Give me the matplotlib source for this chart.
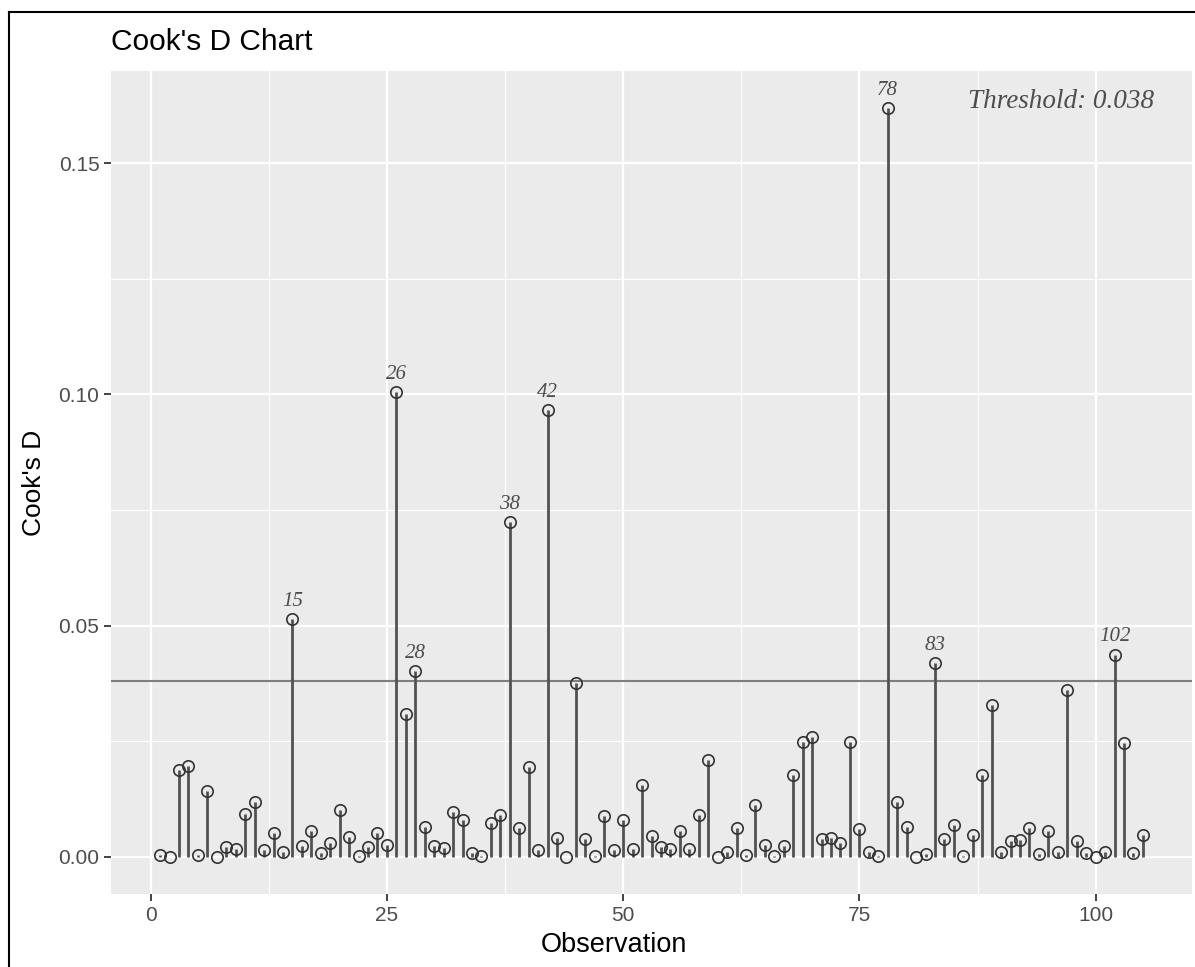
import matplotlib
matplotlib.use("Agg")
import matplotlib.pyplot as plt
from matplotlib.lines import Line2D
import numpy as np

# Cook's distance for each observation (1..105)
observation = list(range(1, 106))
cooks_d = [
    0.0003, 0.0000, 0.0188, 0.0196, 0.0003, 0.0143, 0.0000, 0.0020, 0.0017, 0.0092,
    0.0118, 0.0015, 0.0051, 0.0011, 0.0514, 0.0022, 0.0056, 0.0007, 0.0030, 0.0100,
    0.0043, 0.0001, 0.0020, 0.0050, 0.0025, 0.1005, 0.0308, 0.0402, 0.0064, 0.0022,
    0.0018, 0.0096, 0.0079, 0.0007, 0.0001, 0.0072, 0.0090, 0.0724, 0.0062, 0.0193,
    0.0014, 0.0966, 0.0041, 0.0000, 0.0375, 0.0037, 0.0002, 0.0087, 0.0015, 0.0079,
    0.0017, 0.0154, 0.0044, 0.0020, 0.0016, 0.0055, 0.0017, 0.0090, 0.0208, 0.0000,
    0.0009, 0.0062, 0.0004, 0.0112, 0.0025, 0.0001, 0.0022, 0.0177, 0.0248, 0.0258,
    0.0037, 0.0040, 0.0029, 0.0247, 0.0059, 0.0011, 0.0001, 0.1619, 0.0118, 0.0064,
    0.0000, 0.0006, 0.0418, 0.0038, 0.0068, 0.0002, 0.0047, 0.0177, 0.0329, 0.0010,
    0.0034, 0.0036, 0.0061, 0.0005, 0.0056, 0.0011, 0.0361, 0.0034, 0.0007, 0.0000,
    0.0011, 0.0437, 0.0245, 0.0007, 0.0047,
]
threshold = 0.038
x_ticks = [0, 25, 50, 75, 100]
y_ticks = [0.00, 0.05, 0.10, 0.15]

W, H = 1195, 967
fig = plt.figure(figsize=(W / 100, H / 100), dpi=100)
fig.patch.set_facecolor("white")

left, right, top, bottom = 111, 1192, 71, 894
ax = fig.add_axes([left / W, 1 - bottom / H, (right - left) / W, (bottom - top) / H])
ax.set_facecolor("#EBEBEB")
for s in ax.spines.values():
    s.set_visible(False)

x = np.array(observation)
y = np.array(cooks_d)

# ggplot-style 5% expansion on both axes
xr = x.max() - x.min()
ax.set_xlim(x.min() - 0.05 * xr, x.max() + 0.05 * xr)
yr = y.max() - y.min()
ax.set_ylim(y.min() - 0.05 * yr, y.max() + 0.05 * yr)

# grid
ax.set_xticks(x_ticks)
ax.set_yticks(y_ticks)
ax.set_xticks([12.5, 37.5, 62.5, 87.5], minor=True)
ax.set_yticks([0.025, 0.075, 0.125], minor=True)
ax.grid(which="major", color="white", linewidth=1.6)
ax.grid(which="minor", color="white", linewidth=0.8)
ax.set_axisbelow(True)
ax.tick_params(which="minor", length=0)
ax.tick_params(which="major", length=4.8, width=1.3, color="#333333",
               labelsize=15, labelcolor="#4D4D4D", pad=3.5)
ax.set_yticklabels([f"{v:.2f}" for v in y_ticks], fontfamily="Liberation Sans")
ax.set_xticklabels([str(v) for v in x_ticks], fontfamily="Liberation Sans")

# threshold line
ax.axhline(threshold, color="#7F7F7F", linewidth=1.5, zorder=2)

# stems and points
ax.vlines(x, 0, y, color="#525252", linewidth=2.0, zorder=3)
ax.plot(x, y, linestyle="none", marker="o", markersize=8.2,
        markerfacecolor="none", markeredgecolor="#333333", markeredgewidth=1.2, zorder=4)

# labels for influential observations
for xi, yi in zip(x, y):
    if yi > threshold:
        ax.annotate(str(xi), (xi, yi), xytext=(0, 9.5), textcoords="offset points",
                    ha="center", va="baseline", fontsize=15, style="italic",
                    fontfamily="Liberation Serif", color="#4D4D4D", zorder=5)

ax.text(106.2, y.max(), f"Threshold: {threshold}", ha="right", va="baseline",
        fontsize=19.5, style="italic", fontfamily="Liberation Serif", color="#4D4D4D")

# titles
fig.text(111 / W, 1 - 50 / H, "Cook's D Chart", ha="left", va="baseline",
         fontsize=21.5, fontfamily="Liberation Sans", color="black")
fig.text(614 / W, 1 - 945 / H, "Observation", ha="center", va="center",
         fontsize=19.5, fontfamily="Liberation Sans", color="black")
fig.text(34 / W, 1 - 483 / H, "Cook's D", ha="center", va="center", rotation=90,
         fontsize=19, fontfamily="Liberation Sans", color="black")

# outer frame
fig.add_artist(Line2D([9.3 / W, 9.3 / W], [0, 1 - 11.7 / H], transform=fig.transFigure,
                      color="black", linewidth=1.5))
fig.add_artist(Line2D([9.3 / W, 1], [1 - 11.7 / H, 1 - 11.7 / H], transform=fig.transFigure,
                      color="black", linewidth=1.5))

fig.savefig("out.png", dpi=100)
